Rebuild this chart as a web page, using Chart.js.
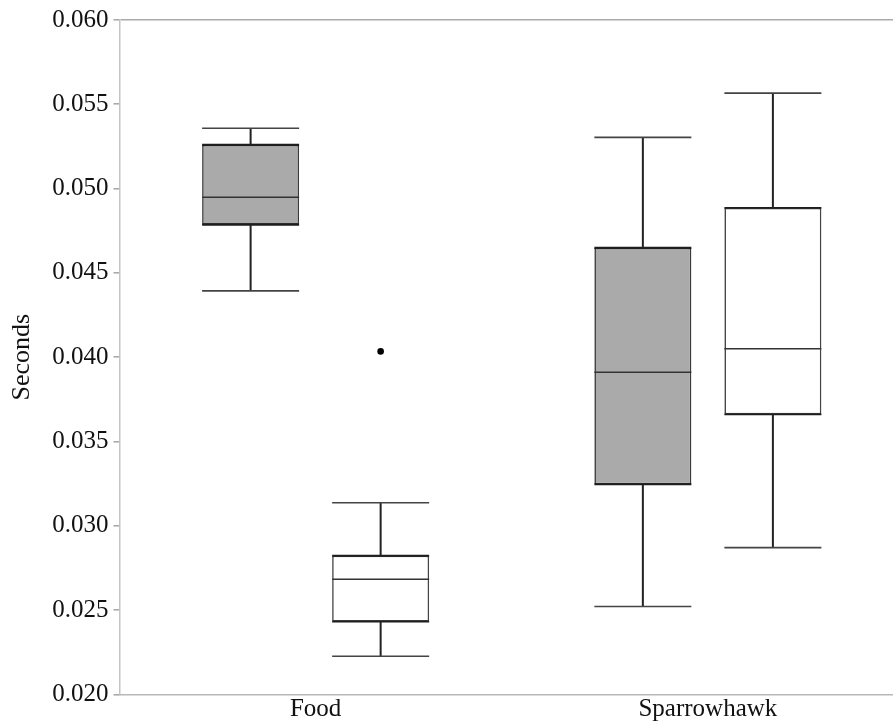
<!DOCTYPE html>
<html>
<head>
<meta charset="utf-8">
<script src="https://cdn.jsdelivr.net/npm/chart.js@4/dist/chart.umd.min.js"></script>
<style>
  html, body { margin: 0; padding: 0; background: #fff; overflow: hidden; }
  #wrap { position: relative; width: 904px; height: 722px; }
</style>
</head>
<body>
<div id="wrap"><canvas id="c"></canvas></div>
<script>
// ---- data ----
const categories = ['Food', 'Sparrowhawk'];
const seriesNames = ['Grey', 'White'];

// Grey boxes
const greyMin    = [0.04393, 0.02521];
const greyQ1     = [0.04786, 0.03246];
const greyMedian = [0.04948, 0.03910];
const greyQ3     = [0.05259, 0.04648];
const greyMax    = [0.05358, 0.05304];
const greyOutliers = [[], []];

// White boxes
const whiteMin    = [0.02226, 0.02870];
const whiteQ1     = [0.02431, 0.03660];
const whiteMedian = [0.02682, 0.04050];
const whiteQ3     = [0.02822, 0.04885];
const whiteMax    = [0.03136, 0.05566];
const whiteOutliers = [[0.04034], []];

// y axis ticks
const yMin = 0.020, yMax = 0.060, yStep = 0.005;

// ---- build ----
const stats = [
  { min: greyMin, q1: greyQ1, med: greyMedian, q3: greyQ3, max: greyMax, out: greyOutliers, edge: 2.2 },
  { min: whiteMin, q1: whiteQ1, med: whiteMedian, q3: whiteQ3, max: whiteMax, out: whiteOutliers, edge: 1.8 }
];

const FONT = "'Liberation Serif', 'Times New Roman', serif";

const boxPlugin = {
  id: 'boxWhiskers',
  afterDatasetsDraw(chart) {
    const ctx = chart.ctx;
    const ys = chart.scales.y;
    stats.forEach((s, d) => {
      const meta = chart.getDatasetMeta(d);
      meta.data.forEach((el, i) => {
        const x = el.x;
        const hw = el.width / 2;
        const pMin = ys.getPixelForValue(s.min[i]);
        const pQ1 = ys.getPixelForValue(s.q1[i]);
        const pMed = ys.getPixelForValue(s.med[i]);
        const pQ3 = ys.getPixelForValue(s.q3[i]);
        const pMax = ys.getPixelForValue(s.max[i]);
        ctx.save();
        // quartile edges (slightly heavier)
        ctx.strokeStyle = '#1e1e1e';
        ctx.lineWidth = s.edge;
        ctx.beginPath();
        ctx.moveTo(x - hw, pQ3); ctx.lineTo(x + hw, pQ3);
        ctx.moveTo(x - hw, pQ1); ctx.lineTo(x + hw, pQ1);
        ctx.stroke();
        // whisker stems
        ctx.strokeStyle = '#222';
        ctx.lineWidth = 2;
        ctx.beginPath();
        ctx.moveTo(x, pQ3); ctx.lineTo(x, pMax);
        ctx.moveTo(x, pQ1); ctx.lineTo(x, pMin);
        ctx.stroke();
        // caps
        ctx.strokeStyle = '#444';
        ctx.lineWidth = 1.6;
        ctx.beginPath();
        ctx.moveTo(x - hw, pMax); ctx.lineTo(x + hw, pMax);
        ctx.moveTo(x - hw, pMin); ctx.lineTo(x + hw, pMin);
        ctx.stroke();
        // median
        ctx.strokeStyle = '#333';
        ctx.lineWidth = 1.5;
        ctx.beginPath();
        ctx.moveTo(x - hw, pMed); ctx.lineTo(x + hw, pMed);
        ctx.stroke();
        // outliers
        ctx.fillStyle = '#000';
        (s.out[i] || []).forEach(v => {
          ctx.beginPath();
          ctx.arc(x, ys.getPixelForValue(v), 3.3, 0, Math.PI * 2);
          ctx.fill();
        });
        ctx.restore();
      });
    });
  }
};

new Chart(document.getElementById('c'), {
  type: 'bar',
  data: {
    labels: categories,
    datasets: [
      {
        label: seriesNames[0],
        data: categories.map((_, i) => [greyQ1[i], greyQ3[i]]),
        backgroundColor: '#aaaaaa',
        borderColor: '#3a3a3a',
        borderWidth: 1.6,
        borderSkipped: false
      },
      {
        label: seriesNames[1],
        data: categories.map((_, i) => [whiteQ1[i], whiteQ3[i]]),
        backgroundColor: '#ffffff',
        borderColor: '#444444',
        borderWidth: 1.6,
        borderSkipped: false
      }
    ]
  },
  options: {
    responsive: true,
    maintainAspectRatio: false,
    devicePixelRatio: 1,
    animation: false,
    categoryPercentage: 0.663,
    barPercentage: 0.746,
    layout: { padding: { top: 17, left: 0, right: 0, bottom: 0 } },
    plugins: { legend: { display: false }, tooltip: { enabled: false } },
    scales: {
      x: {
        grid: { display: false, drawTicks: false },
        border: { display: true, color: '#b8b8b8', width: 1.5 },
        ticks: { color: '#111', font: { family: FONT, size: 25 }, padding: 0 },
        afterFit(scale) { scale.height = 27.7; }
      },
      y: {
        min: yMin,
        max: yMax,
        ticks: {
          stepSize: yStep,
          color: '#111',
          padding: 5,
          font: { family: FONT, size: 25 },
          callback: v => v.toFixed(3)
        },
        grid: {
          drawOnChartArea: true,
          tickLength: 6,
          tickColor: '#aaaaaa',
          lineWidth: 1.6,
          color: ctx => (ctx.tick && Math.abs(ctx.tick.value - yMax) < 1e-9) ? '#aaaaaa' : 'rgba(0,0,0,0)'
        },
        border: { display: true, color: '#c4c4c4', width: 1.5 },
        title: {
          display: true,
          text: 'Seconds',
          color: '#111',
          font: { family: FONT, size: 26 },
          padding: { top: 7, bottom: 0 }
        },
        afterFit(scale) { scale.width = 119.5; }
      }
    }
  },
  plugins: [boxPlugin]
});
</script>
</body>
</html>
